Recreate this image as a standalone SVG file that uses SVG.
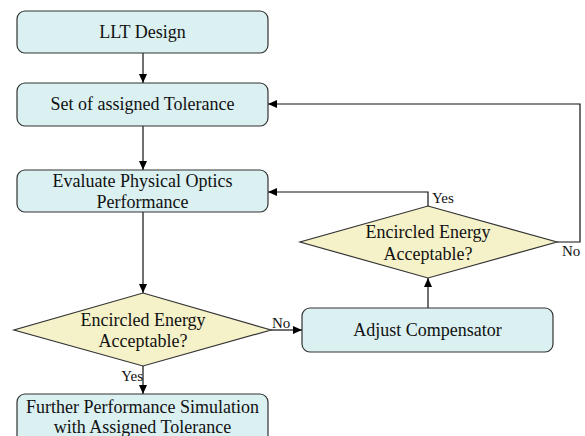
<svg xmlns="http://www.w3.org/2000/svg" width="585" height="436" viewBox="0 0 585 436">
<style>
.box{fill:#daf0f1;stroke:#333;stroke-width:1.2}
.dia{fill:#f5f1c9;stroke:#333;stroke-width:1.2}
.t{font-family:'Liberation Serif',Tinos,'Times New Roman',serif;font-size:18px;fill:#111;text-anchor:middle}
.l{font-family:'Liberation Serif',Tinos,'Times New Roman',serif;font-size:15px;fill:#111}
.c{fill:none;stroke:#111;stroke-width:1.2}
</style>
<defs>
<marker id="ar" markerWidth="10" markerHeight="10" refX="9" refY="5" orient="auto" markerUnits="userSpaceOnUse">
<path d="M0,1 L9,5 L0,9 Z" fill="#000"/>
</marker>
</defs>
<rect width="585" height="436" fill="#fff"/>
<g id="connectors">
<path class="c" d="M143,53 V83" marker-end="url(#ar)"/>
<path class="c" d="M143,126 V170" marker-end="url(#ar)"/>
<path class="c" d="M143,212 V293" marker-end="url(#ar)"/>
<path class="c" d="M271,330 H302" marker-end="url(#ar)"/>
<path class="c" d="M428,308 V278" marker-end="url(#ar)"/>
<path class="c" d="M428,206 V192 H268" marker-end="url(#ar)"/>
<path class="c" d="M557,242 H580 V104 H268" marker-end="url(#ar)"/>
<path class="c" d="M143,366 V394" marker-end="url(#ar)"/>
<text class="l" x="272" y="328">No</text>
<text class="l" x="432" y="203">Yes</text>
<text class="l" x="562" y="256">No</text>
<text class="l" x="143" y="381" text-anchor="end">Yes</text>
</g>
<g id="n1"><rect class="box" x="17" y="11" width="251" height="42" rx="8"/><text class="t" x="142.5" y="38">LLT Design</text></g>
<g id="n2"><rect class="box" x="17" y="83" width="251" height="43" rx="8"/><text class="t" x="142.5" y="110">Set of assigned Tolerance</text></g>
<g id="n3"><rect class="box" x="17" y="170" width="251" height="42" rx="8"/><text class="t" x="142.5" y="187">Evaluate Physical Optics</text><text class="t" x="142.5" y="208">Performance</text></g>
<g id="d1"><path class="dia" d="M143,293 L271,330 L143,366 L14,330 Z"/><text class="t" x="143" y="326">Encircled Energy</text><text class="t" x="143" y="347">Acceptable?</text></g>
<g id="n4"><rect class="box" x="302" y="308" width="251" height="44" rx="8"/><text class="t" x="427.5" y="336">Adjust Compensator</text></g>
<g id="d2"><path class="dia" d="M428,206 L557,242 L428,278 L300,242 Z"/><text class="t" x="428" y="238">Encircled Energy</text><text class="t" x="428" y="260">Acceptable?</text></g>
<g id="n5"><rect class="box" x="17" y="394" width="251" height="60" rx="8"/><text class="t" x="142.5" y="413">Further Performance Simulation</text><text class="t" x="142.5" y="433">with Assigned Tolerance</text></g>
</svg>
